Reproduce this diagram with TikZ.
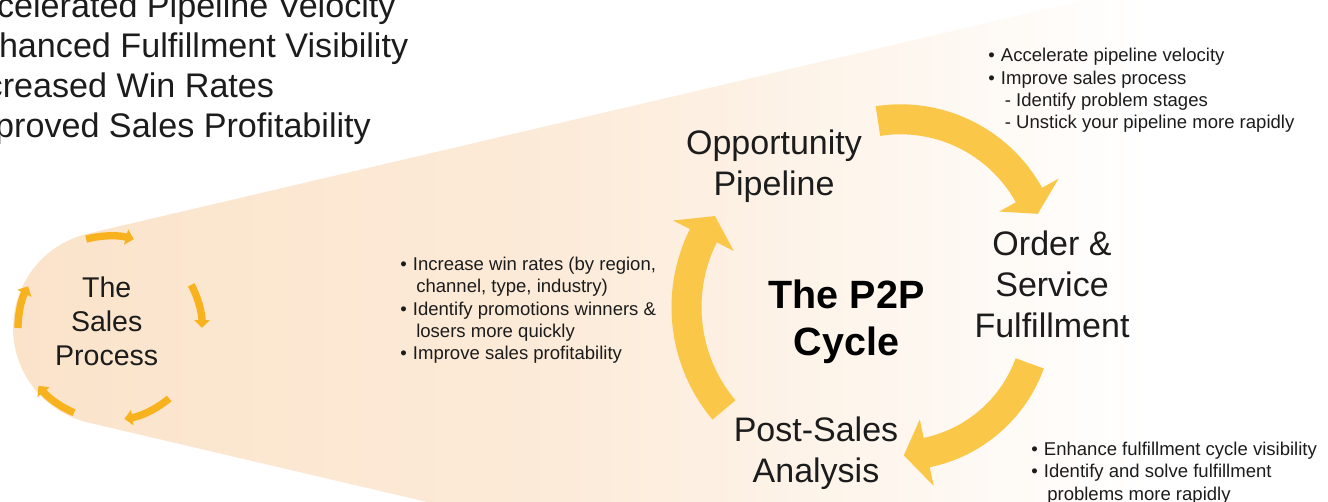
\documentclass[tikz,border=0pt]{standalone}
\usepackage{fontspec}
\setmainfont{Liberation Sans}
\usetikzlibrary{arrows.meta,calc}

\definecolor{conepeach}{RGB}{251,227,202}
\colorlet{conemid}{conepeach!72!white}
\definecolor{cyclegold}{RGB}{251,199,72}
\definecolor{salesgold}{RGB}{247,178,29}
\definecolor{inkdark}{RGB}{28,28,28}

\pgfdeclarehorizontalshading{conefade}{100bp}{color(0bp)=(conepeach); color(25bp)=(conepeach); color(45bp)=(conemid); color(66bp)=(white); color(100bp)=(white)}

\newcommand{\notebul}{\makebox[9.5pt][l]{\textbullet}}
\newcommand{\notehang}{\hspace*{12pt}}

\begin{document}
\begin{tikzpicture}[x=0.75pt,y=0.75pt,yscale=-1,xscale=1,
  stage/.style={font=\fontsize{25.5}{30.75}\selectfont, align=center, text=inkdark, inner sep=0pt},
  cyclename/.style={font=\bfseries\fontsize{29.6}{35}\selectfont, align=center, text=black, inner sep=0pt},
  salesname/.style={font=\fontsize{21.4}{25.7}\selectfont, align=center, text=inkdark, inner sep=0pt},
  benefit/.style={font=\fontsize{25.6}{30}\selectfont, align=left, text=inkdark, inner sep=0pt, anchor=north west},
  notes/.style={font=\fontsize{13.9}{16.8}\selectfont, align=left, text=inkdark, inner sep=0pt, anchor=north west},
  salesarrow/.style={draw=salesgold, line width=5.5pt, -{Triangle[length=6pt,width=11.5pt]}},
  cyclearrow/.style={fill=cyclegold}]
\useasboundingbox (0,0) rectangle (1328,501);
\clip (0,0) rectangle (1328,501);

%Shape: cone
\shade[shading=conefade] (87.9,233.6) arc[start angle=256.8, end angle=103.2, radius=97] -- (1400,730) -- (1400,-74) -- cycle;

%Small circle of arrows
\coordinate (salesc) at (110,328);
\foreach \sa/\sb in {255/285, 332/360, 50/81, 113/141, 180/207}
  \draw[salesarrow] ($(salesc)+(\sa:92)$) arc[start angle=\sa, end angle=\sb, radius=92];

%Big cycle arrows
\foreach \cx/\cy/\r/\ta/\tb/\tc in {900.4/266.3/147/-98.8/-29/-20.9, 898.2/315.5/140/20/78.25/87.7, 846.5/307.1/160/140/206.5/214.7}
  \fill[cyclearrow] ($(\cx,\cy)+(\ta:{\r+15})$) arc[start angle=\ta, end angle=\tb, radius={\r+15}]
    -- ($(\cx,\cy)+(\tb:{\r+34})$) -- ($(\cx,\cy)+(\tc:\r)$) -- ($(\cx,\cy)+(\tb:{\r-34})$)
    -- ($(\cx,\cy)+(\tb:{\r-15})$) arc[start angle=\tb, end angle=\ta, radius={\r-15}] -- cycle;

% Text Node
\node[benefit] (benefits) at (-43,-7.6) {Accelerated Pipeline Velocity\\Enhanced Fulfillment Visibility\\Increased Win Rates\\Improved Sales Profitability};
% Text Node
\node[salesname] (salesproc) at (106.7,321.4) {The\\Sales\\Process};
% Text Node
\node[stage] (opp) at (774,166) {Opportunity\\Pipeline};
% Text Node
\node[stage] (order) at (1052,284) {Order \&\\Service\\Fulfillment};
% Text Node
\node[stage] (postsales) at (816,453) {Post-Sales\\Analysis};
% Text Node
\node[cyclename] (cycle) at (846.5,321.5) {The P2P\\Cycle};
% Text Node
\node[notes] (winnotes) at (400,256.5) {\notebul Increase win rates (by region,\\\notehang channel, type, industry)\\\notebul Identify promotions winners \&\\\notehang losers more quickly\\\notebul Improve sales profitability};
% Text Node
\node[notes] (pipenotes) at (988,48) {\notebul Accelerate pipeline velocity\\\notebul Improve sales process\\\hspace*{12.5pt}- Identify problem stages\\\hspace*{12.5pt}- Unstick your pipeline more rapidly};
% Text Node
\node[notes] (fulfilnotes) at (1031,441.8) {\notebul Enhance fulfillment cycle visibility\\\notebul Identify and solve fulfillment\\\notehang problems more rapidly};

\end{tikzpicture}
\end{document}
